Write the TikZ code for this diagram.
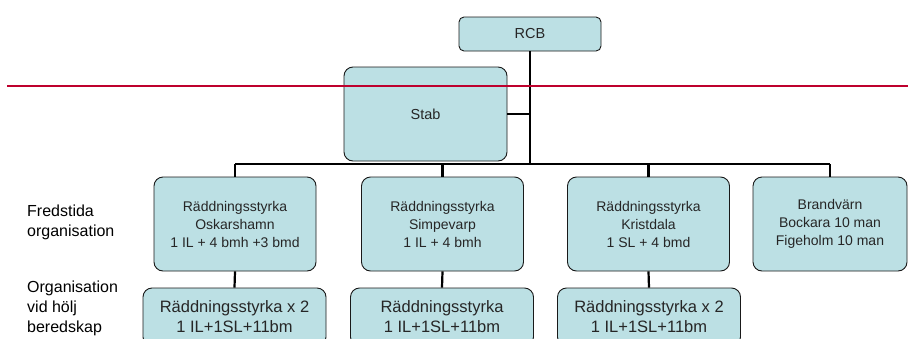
\documentclass[tikz,border=0pt]{standalone}
\usepackage{fontspec}
\setmainfont{Liberation Sans}
\definecolor{boxblue}{RGB}{188,224,228}
\definecolor{redline}{RGB}{190,0,45}

\begin{document}
\begin{tikzpicture}[
    x = 1pt, y = -1pt,
    line join=round,
    box/.style = {draw=black!90, line width=0.9pt, fill=boxblue, rounded corners=9pt, align=center, inner sep=0pt, text=black!85},
    upper/.style = {box, minimum width=162pt, minimum height=94pt, font=\fontsize{14}{18}\selectfont},
    lower/.style = {box, minimum width=183pt, minimum height=58pt, font=\fontsize{16.5}{20}\selectfont},
    link/.style = {line width=2.2pt},
    side/.style = {align=left, anchor=west, inner sep=0pt, font=\fontsize{16}{20}\selectfont}
]
    \useasboundingbox (0,0) rectangle (908,338);

    \node[box, rounded corners=5pt, minimum width=142pt, minimum height=34pt, font=\fontsize{14.5}{18}\selectfont] (rcb) at (530,34) {RCB};
    \node[box, minimum width=163pt, minimum height=94pt, font=\fontsize{14.5}{18}\selectfont] (stab) at (425.5,114) {Stab};

    \coordinate (bus) at (0,164);

    \node[upper] (osk) at (235,224) {Räddningsstyrka\\Oskarshamn\\1 IL + 4 bmh +3 bmd};
    \node[upper] (simp) at (442.5,224) {Räddningsstyrka\\Simpevarp\\1 IL + 4 bmh};
    \node[upper] (krist) at (648.5,224) {Räddningsstyrka\\Kristdala\\1 SL + 4 bmd};
    \node[upper, minimum width=154pt] (brand) at (830,224) {Brandvärn\\Bockara 10 man\\Figeholm 10 man};

    \node[lower] (osk2) at (234.5,317) {Räddningsstyrka x 2\\1 IL+1SL+11bm};
    \node[lower] (simp2) at (442,317) {Räddningsstyrka\\1 IL+1SL+11bm};
    \node[lower] (krist2) at (649,317) {Räddningsstyrka x 2\\1 IL+1SL+11bm};

    \node[side] (fred) at (27,222) {Fredstida\\organisation};
    \node[side] (hojd) at (27,308) {Organisation\\vid hölj\\beredskap};

    % linjer mellan rutorna
    \draw[link] (rcb.south) -- (rcb.south |- bus);
    \draw[link] (stab.east) -- (stab.east -| rcb.south);
    \draw[link] (osk.north |- bus) -- (brand.north |- bus);
    \foreach \n in {osk, simp, krist, brand} {
        \draw[link] (\n.north) -- (\n.north |- bus);
    }
    \foreach \n in {osk, simp, krist} {
        \draw[link] (\n.south) -- (\n2.north);
    }

    \coordinate (redL) at (7,86);
    \coordinate (redR) at (908,86);
    \draw[redline, line width=1.6pt] (redL) -- (redR);

\end{tikzpicture}
\end{document}
